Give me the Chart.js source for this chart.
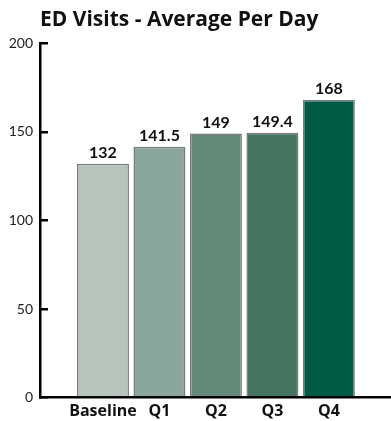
<!DOCTYPE html>
<html>
<head>
<meta charset="utf-8">
<script src="https://cdn.jsdelivr.net/npm/chart.js@4"></script>
<style>
  body { margin: 0; background: #fff; }
</style>
</head>
<body>
<canvas id="myChart" width="391" height="421"></canvas>
<script>
// chart data
const quarterNames = ['Baseline', 'Q1', 'Q2', 'Q3', 'Q4'];
const visitsPerDay = [132, 141.5, 149, 149.4, 168];
const barColors = ['#b6c4bc', '#8ba69c', '#65897b', '#44735f', '#005a44'];
const yTicks = [0, 50, 100, 150, 200];

const fontFamily = 'Lato, "Open Sans", sans-serif';
const wideFont = '"Open Sans", Lato, sans-serif';

// draws the value above each bar
const valueLabels = {
  id: 'valueLabels',
  afterDatasetsDraw(chart) {
    const ctx = chart.ctx;
    const meta = chart.getDatasetMeta(0);
    ctx.save();
    ctx.fillStyle = '#111';
    ctx.font = 'bold 16px ' + fontFamily;
    ctx.textAlign = 'center';
    ctx.textBaseline = 'bottom';
    meta.data.forEach((bar, i) => {
      ctx.fillText(String(visitsPerDay[i]), bar.x, bar.y - 3);
    });
    ctx.restore();
  }
};

const data = {
  datasets: [{
    data: visitsPerDay.map((v, i) => ({ x: i, y: v })),
    backgroundColor: barColors,
    borderColor: '#7a7a7a',
    borderWidth: 1.5,
    categoryPercentage: 1,
    barPercentage: 0.92
  }]
};

const config = {
  type: 'bar',
  data: data,
  options: {
    responsive: false,
    animation: false,
    layout: { padding: { left: 0, right: 0, top: 0, bottom: 1 } },
    plugins: {
      legend: { display: false },
      tooltip: { enabled: false },
      title: {
        display: true,
        text: 'ED Visits - Average Per Day',
        align: 'start',
        fullSize: false,
        color: '#111',
        font: { family: wideFont, size: 21, weight: 'bold' },
        padding: { top: 7, bottom: 11 }
      }
    },
    scales: {
      x: {
        type: 'linear',
        offset: false,
        min: -1.115,
        max: 5.1,
        grid: { display: false, drawTicks: false },
        border: { display: true, color: '#000', width: 2.5 },
        afterBuildTicks: (scale) => {
          scale.ticks = quarterNames.map((n, i) => ({ value: i }));
        },
        afterFit: (scale) => { scale.height = 22; },
        ticks: {
          autoSkip: false,
          maxRotation: 0,
          padding: 4,
          color: '#111',
          font: { family: wideFont, size: 16, weight: 'bold' },
          callback: (value) => quarterNames[value]
        }
      },
      y: {
        min: 0,
        max: 200,
        afterBuildTicks: (scale) => {
          scale.ticks = yTicks.map(v => ({ value: v }));
        },
        afterFit: (scale) => { scale.width = 40; },
        grid: {
          drawOnChartArea: false,
          drawTicks: true,
          tickLength: -8,
          color: '#000',
          lineWidth: 2.5
        },
        border: { display: true, color: '#000', width: 2.5 },
        ticks: {
          padding: 15,
          color: '#222',
          font: { family: fontFamily, size: 14 }
        }
      }
    }
  },
  plugins: [valueLabels]
};

let canvasChart = document.getElementById('myChart');
const myChart = new Chart(canvasChart, config);
</script>
</body>
</html>
